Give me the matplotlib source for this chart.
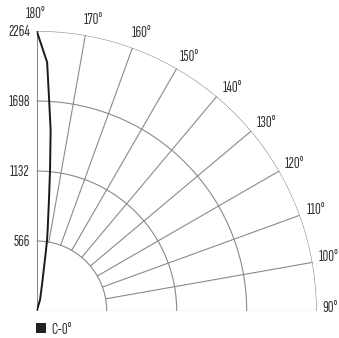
import numpy as np
import matplotlib
matplotlib.use('Agg')
import matplotlib.pyplot as plt
from matplotlib.patches import Patch

plt.rcParams['font.family'] = ['Sofia Sans Extra Condensed', 'DejaVu Sans']

# Datos: curva fotométrica C-0°
gamma = [180, 177.6, 176.6, 175.6, 174.6, 173.7, 172.3, 171.7, 171.1, 170.3, 168.5, 163.3, 160]
intensidad = [2264, 2013, 1701, 1468, 1145, 903, 661, 580, 458, 336, 214, 93, 0]

anillos = [566, 1132, 1698, 2264]
angulos = [90, 100, 110, 120, 130, 140, 150, 160, 170, 180]
etiqueta_serie = 'C-0°'

rmax = anillos[-1]
gris = '#8a8a8a'
texto = '#333333'
fs = 11.5

W, H = 339, 338
fig = plt.figure(figsize=(W / 100, H / 100), dpi=100)
cx, cy, R = 36.7, 27.0, 280.0
ax = fig.add_axes([cx / W, cy / H, R / W, R / H], projection='polar')
ax.set_theta_offset(-np.pi / 2)
ax.set_thetamin(90)
ax.set_thetamax(180)
ax.set_rlim(0, rmax)
ax.set_axis_off()

# anillos
th = np.radians(np.linspace(90, 180, 200))
for r in anillos:
    ax.plot(th, np.full_like(th, r), color=gris, lw=0.8, zorder=1)

# radios
for a in angulos:
    r0 = 0 if a in (90, 180) else anillos[0]
    ax.plot([np.radians(a)] * 2, [r0, rmax], color=gris, lw=0.8, zorder=1)

# curva
ax.plot(np.radians(gamma), intensidad, color='#1a1a1a', lw=1.4, zorder=3)

# etiquetas radiales
for r in anillos:
    ax.annotate(str(r), xy=(np.pi, r), xytext=(-7, -1.5), textcoords='offset pixels',
                ha='right', va='center', fontsize=fs, color=texto)

# etiquetas de ángulos
desplaz = {90: 0.6, 100: 0.5, 110: -0.2, 120: -0.4, 130: -0.7, 140: -1.2,
           150: -1.0, 160: -0.7, 170: -1.0, 180: 0.2}
for a in angulos:
    rr = rmax * (1.047 if a == 90 else 1.06)
    ax.text(np.radians(a + desplaz[a]), rr, f'{a}°', ha='center', va='center',
            fontsize=fs, color=texto)

fig.legend(handles=[Patch(facecolor='#222222', edgecolor='none', label=etiqueta_serie)],
           loc='lower left', bbox_to_anchor=(35.7 / W, 1.5 / H), frameon=False,
           handlelength=0.65, handleheight=0.65, handletextpad=0.35,
           borderpad=0, borderaxespad=0, prop={'size': fs},
           labelcolor=texto)

fig.savefig('out.png', dpi=100)
